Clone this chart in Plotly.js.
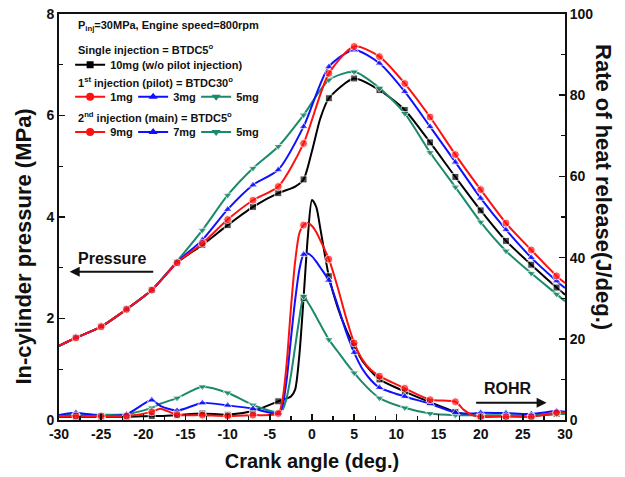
<!DOCTYPE html>
<html>
<head>
<meta charset="utf-8">
<script src="https://cdn.plot.ly/plotly-3.0.1.min.js"></script>
<style>html,body{margin:0;padding:0;background:#fff;}#chart{width:625px;height:477px;}</style>
</head>
<body>
<div id="chart"></div>
<script>
// ---------- data ----------
const xTickVals = [-30, -25, -20, -15, -10, -5, 0, 5, 10, 15, 20, 25, 30];
const xTickText = ['-30', '-25', '-20', '-15', '-10', '-5', '0', '5', '10', '15', '20', '25', '30'];

// In-cylinder pressure (MPa)
const crankP = [-30, -28, -25, -22, -19, -16, -13, -10, -7, -4, -1, 2, 5, 8, 11, 14, 17, 20, 23, 26, 29, 30];
const crankPBlack = [-30, -28, -25, -22, -19, -16, -13, -10, -7, -4, -2, -1, 0, 1, 2, 5, 8, 11, 14, 17, 20, 23, 26, 29, 30];
const pSingle10 = [1.46, 1.62, 1.84, 2.18, 2.56, 3.10, 3.45, 3.84, 4.20, 4.47, 4.60, 4.74, 5.30, 5.95, 6.34, 6.73, 6.50, 6.11, 5.47, 4.79, 4.13, 3.53, 3.06, 2.61, 2.47];
const pPilot1 = [1.46, 1.62, 1.84, 2.18, 2.56, 3.10, 3.48, 3.95, 4.33, 4.60, 5.45, 6.83, 7.36, 7.16, 6.63, 5.97, 5.23, 4.54, 3.88, 3.35, 2.84, 2.70];
const pPilot3 = [1.46, 1.62, 1.84, 2.18, 2.56, 3.11, 3.55, 4.15, 4.63, 4.93, 5.78, 6.96, 7.29, 7.03, 6.47, 5.78, 5.08, 4.37, 3.75, 3.20, 2.74, 2.60];
const pPilot5 = [1.46, 1.62, 1.84, 2.18, 2.56, 3.13, 3.74, 4.43, 4.96, 5.39, 6.01, 6.70, 6.86, 6.54, 6.04, 5.27, 4.59, 3.90, 3.33, 2.89, 2.48, 2.34];

// Rate of heat release (J/deg.)
const crankR = [-30, -28, -25, -22, -19, -18, -16, -13, -10, -7, -4, -3.5, -3, -2.5, -2, -1.5, -1, -0.5, 0, 0.5, 1, 1.5, 2, 3, 4, 5, 6, 7, 8, 11, 14, 17, 18, 19, 20, 23, 26, 29, 30];
const rSingle10 = [0.8, 0.8, 0.8, 0.8, 1.0, 1.0, 1.2, 1.6, 1.3, 2.2, 4.6, 5.0, 5.3, 5.8, 7.5, 16, 30, 45, 54.2, 52.5, 47, 41, 35.4, 28, 22.5, 18.2, 14.5, 12, 10, 7.0, 4.4, 2.0, 1.5, 1.2, 1.0, 1.0, 1.0, 1.5, 1.5];
const rMain9 = [1.0, 1.0, 1.0, 1.0, 2.0, 2.8, 1.3, 1.2, 1.0, 1.2, 1.6, 5, 14, 27.5, 39, 46, 48, 48.5, 47.8, 46.3, 44.2, 42, 39.6, 33, 25.5, 19, 14.8, 12.3, 10.8, 7.8, 5.0, 4.5, 2.5, 1.2, 0.8, 0.8, 0.8, 1.8, 1.8];
const rMain7 = [1.2, 1.8, 1.0, 1.4, 4.9, 3.5, 2.3, 4.2, 3.6, 2.8, 1.6, 3.5, 10, 20, 29.5, 37, 40.8, 41, 40.3, 39, 37.5, 36, 34.4, 28.5, 22, 16.6, 12.5, 9.8, 8.0, 5.8, 4.0, 1.8, 1.6, 1.6, 1.8, 1.7, 1.5, 2.2, 2.0];
const rMain5 = [1.2, 1.4, 1.3, 1.4, 3.0, 4.0, 5.4, 8.2, 6.7, 3.7, 1.9, 2.5, 5.5, 11, 18, 25, 30.5, 29, 27.3, 25.4, 23.5, 21.6, 19.8, 17, 14.2, 11.6, 9.2, 7.1, 5.4, 3.0, 1.6, 1.2, 1.2, 1.2, 1.2, 1.2, 1.2, 1.5, 1.5];

// ---------- styling ----------
const FONT = 'Liberation Sans, Arial, Helvetica, sans-serif';
const RED = '#ff1010', BLUE = '#1010ff', GREEN = '#1b8a6b', BLACK = '#000000';
const MS = 8;

// markers are drawn every 3 degrees (-28, -25, ..., 29)
function markerSizes(xs, size) {
  return xs.map(x => (Number.isInteger(x) && ((x + 28) % 3 === 0)) ? size : 0);
}

function series(xs, ys, color, symbol, size, yaxis) {
  return {
    x: xs, y: ys, yaxis: yaxis, type: 'scatter', mode: 'lines+markers',
    line: {color: color, width: 2, shape: 'spline', smoothing: 0.7},
    marker: {color: color, symbol: symbol, size: markerSizes(xs, size)},
    showlegend: false, hoverinfo: 'skip', cliponaxis: true
  };
}

function legendEntry(name, color, symbol, size, legend) {
  return {
    x: [null], y: [null], type: 'scatter', mode: 'lines+markers', name: name,
    legend: legend, line: {color: color, width: 2},
    marker: {color: color, symbol: symbol, size: size}, showlegend: true
  };
}

const traces = [
  series(crankPBlack, pSingle10, BLACK, 'square', 7, 'y'),
  series(crankP, pPilot5, GREEN, 'triangle-down', MS, 'y'),
  series(crankP, pPilot3, BLUE, 'triangle-up', MS, 'y'),
  series(crankP, pPilot1, RED, 'circle', MS, 'y'),
  series(crankR, rSingle10, BLACK, 'square', 7, 'y2'),
  series(crankR, rMain5, GREEN, 'triangle-down', MS, 'y2'),
  series(crankR, rMain7, BLUE, 'triangle-up', MS, 'y2'),
  series(crankR, rMain9, RED, 'circle', MS, 'y2'),
  legendEntry('10mg (w/o pilot injection)', BLACK, 'square', 7, 'legend'),
  legendEntry('1mg', RED, 'circle', MS, 'legend2'),
  legendEntry('3mg', BLUE, 'triangle-up', MS, 'legend2'),
  legendEntry('5mg', GREEN, 'triangle-down', MS, 'legend2'),
  legendEntry('9mg', RED, 'circle', MS, 'legend3'),
  legendEntry('7mg', BLUE, 'triangle-up', MS, 'legend3'),
  legendEntry('5mg', GREEN, 'triangle-down', MS, 'legend3')
];

const tickFont = {family: FONT, size: 14, color: '#111', weight: 'bold'};
const legFont = {family: FONT, size: 11, color: '#111', weight: 'bold'};
const hdrFont = {family: FONT, size: 11, color: '#111', weight: 'bold'};

const baseLegend = {
  bgcolor: 'rgba(0,0,0,0)', borderwidth: 0, font: legFont,
  xanchor: 'left', yanchor: 'top', orientation: 'h', itemwidth: 30,
  entrywidth: 18, entrywidthmode: 'pixels',
  tracegroupgap: 0, itemclick: false, itemdoubleclick: false
};

const layout = {
  width: 625, height: 477,
  margin: {l: 59, r: 60, t: 14, b: 57, pad: 0},
  paper_bgcolor: '#ffffff', plot_bgcolor: '#ffffff',
  font: {family: FONT, size: 14, color: '#111', weight: 'bold'},
  showlegend: true,
  xaxis: {
    range: [-30, 30], tickmode: 'array', tickvals: xTickVals, ticktext: xTickText,
    ticks: 'inside', ticklen: 6, tickwidth: 1.5, tickcolor: '#111',
    minor: {tickmode: 'linear', tick0: -30, dtick: 2.5, ticks: 'inside', ticklen: 4, tickwidth: 1.2, tickcolor: '#111'},
    showline: true, linewidth: 2, linecolor: '#111', mirror: true,
    showgrid: false, zeroline: false, tickfont: tickFont,
    title: {text: 'Crank angle (deg.)', font: {family: FONT, size: 20, color: '#111', weight: 'bold'}, standoff: 13}
  },
  yaxis: {
    range: [0, 8], dtick: 2, tick0: 0,
    ticks: 'inside', ticklen: 6, tickwidth: 1.5, tickcolor: '#111',
    minor: {dtick: 1, ticks: 'inside', ticklen: 4, tickwidth: 1.2, tickcolor: '#111'},
    showline: true, linewidth: 2, linecolor: '#111', mirror: true,
    showgrid: false, zeroline: false, tickfont: tickFont
  },
  yaxis2: {
    range: [0, 100], dtick: 20, tick0: 0, overlaying: 'y', side: 'right',
    ticks: 'inside', ticklen: 6, tickwidth: 1.5, tickcolor: '#111',
    minor: {dtick: 10, ticks: 'inside', ticklen: 4, tickwidth: 1.2, tickcolor: '#111'},
    showline: true, linewidth: 2, linecolor: '#111',
    showgrid: false, zeroline: false, tickfont: tickFont
  },
  legend: Object.assign({}, baseLegend, {x: 0.022, y: 0.911, entrywidth: 0}),
  legend2: Object.assign({}, baseLegend, {x: 0.022, y: 0.832}),
  legend3: Object.assign({}, baseLegend, {x: 0.022, y: 0.745}),
  annotations: [
    {xref: 'paper', yref: 'paper', x: -0.072, y: 0.426, text: 'In-cylinder pressure (MPa)', textangle: -90,
     showarrow: false, xanchor: 'center', yanchor: 'middle', font: {family: FONT, size: 22, color: '#111', weight: 'bold'}},
    {xref: 'paper', yref: 'paper', x: 1.075, y: 0.574, text: 'Rate of heat release(J/deg.)', textangle: 90,
     showarrow: false, xanchor: 'center', yanchor: 'middle', font: {family: FONT, size: 22, color: '#111', weight: 'bold'}},
    {xref: 'paper', yref: 'paper', x: 0.033, y: 0.970, xanchor: 'left', yanchor: 'middle', showarrow: false,
     text: 'P<sub>inj</sub>=30MPa, Engine speed=800rpm', font: hdrFont},
    {xref: 'paper', yref: 'paper', x: 0.033, y: 0.914, xanchor: 'left', yanchor: 'middle', showarrow: false,
     text: 'Single injection = BTDC5<sup>o</sup>', font: hdrFont},
    {xref: 'paper', yref: 'paper', x: 0.033, y: 0.833, xanchor: 'left', yanchor: 'middle', showarrow: false,
     text: '1<sup>st</sup> injection (pilot) = BTDC30<sup>o</sup>', font: hdrFont},
    {xref: 'paper', yref: 'paper', x: 0.033, y: 0.746, xanchor: 'left', yanchor: 'middle', showarrow: false,
     text: '2<sup>nd</sup> injection (main) = BTDC5<sup>o</sup>', font: hdrFont},
    // Pressure label + arrow
    {xref: 'x', yref: 'y', x: -23.6, y: 3.19, text: 'Pressure', showarrow: false,
     font: {family: FONT, size: 16, color: '#111', weight: 'bold'}},
    {xref: 'x', yref: 'y', x: -28.73, y: 2.92, ax: 85, ay: 0, text: '', showarrow: true,
     arrowhead: 2, arrowsize: 1, arrowwidth: 2, arrowcolor: '#111'},
    // ROHR label + arrow
    {xref: 'x', yref: 'y2', x: 23.26, y: 7.8, text: 'ROHR', showarrow: false,
     font: {family: FONT, size: 16, color: '#111', weight: 'bold'}},
    {xref: 'x', yref: 'y2', x: 27.82, y: 4.26, ax: -72, ay: 0, text: '', showarrow: true,
     arrowhead: 2, arrowsize: 1, arrowwidth: 2, arrowcolor: '#111'}
  ]
};

Plotly.newPlot('chart', traces, layout, {staticPlot: true, displayModeBar: false});
</script>
</body>
</html>
